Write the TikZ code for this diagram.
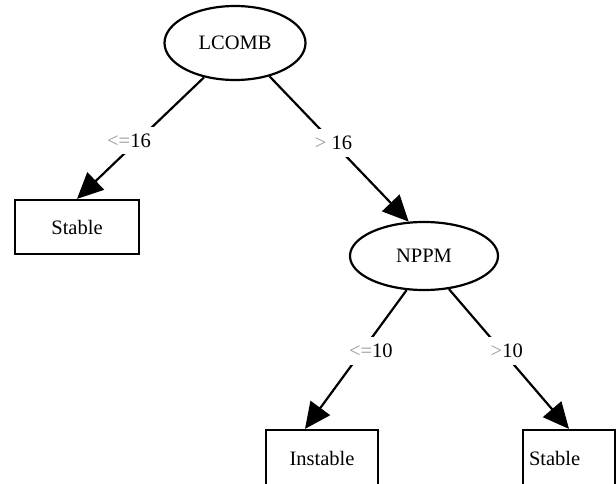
\documentclass[tikz,border=0pt]{standalone}
\usepackage{fontspec}
\setmainfont{Liberation Serif}
\usetikzlibrary{arrows.meta,shapes.geometric}
\begin{document}
\begin{tikzpicture}[x=1pt,y=-1pt,
  every node/.style={font=\fontsize{20.5}{24}\selectfont},
  test/.style={ellipse, draw, line width=2.2pt, inner sep=0pt},
  leaf/.style={rectangle, draw, line width=2.2pt, inner sep=0pt},
  branch/.style={line width=2.2pt},
  arr/.style={branch, -{Triangle[length=26pt,width=24pt]}},
  cond/.style={fill=white, inner xsep=3pt, inner ysep=7pt, text=black}]
\useasboundingbox (0,0) rectangle (616,484);

% decision nodes
\node[test, minimum width=141pt, minimum height=74pt] (lcomb) at (235,43) {LCOMB};
\node[test, minimum width=148pt, minimum height=68pt] (nppm) at (424,256) {NPPM};

% leaves
\node[leaf, minimum width=124pt, minimum height=54pt] (stableA) at (77,227) {Stable};
\node[leaf, minimum width=112pt, minimum height=56pt] (instable) at (322,458) {Instable};
\node[leaf, minimum height=56pt, inner xsep=6pt, text width=80pt, align=left] (stableB) at (569,458) {Stable};

% branches with their conditions
\draw[arr] (lcomb.228) -- node[cond, pos=0.52, xshift=-9pt] {\textcolor{black!40}{<=}16} (stableA.north);
\draw[arr] (lcomb.316) -- node[cond, pos=0.46] {\textcolor{black!40}{>} 16} (nppm.114);
\draw[arr] (nppm.243) -- node[cond, pos=0.44, xshift=9pt] {\textcolor{black!40}{<=}10} ([xshift=-17pt]instable.north);
\draw[arr] (nppm.307) -- node[cond, pos=0.44, xshift=5pt] {\textcolor{black!40}{>}10} (stableB.north);
\end{tikzpicture}
\end{document}
